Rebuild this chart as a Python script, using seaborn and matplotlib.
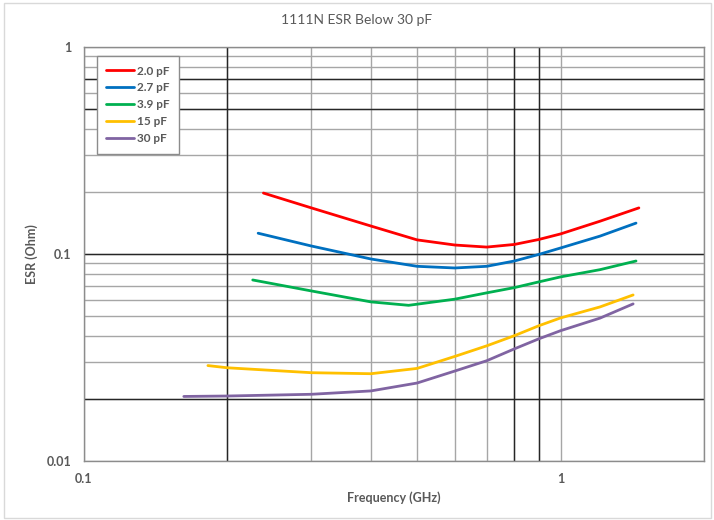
import numpy as np
import pandas as pd
import seaborn as sns
import matplotlib.pyplot as plt
from matplotlib.patches import Rectangle
from matplotlib.ticker import FixedLocator, NullFormatter

# values (GHz, Ohm)
cap_labels = ["2.0 pF", "2.7 pF", "3.9 pF", "15 pF", "30 pF"]

freq_20 = [0.238, 0.30, 0.40, 0.50, 0.60, 0.70, 0.80, 0.90, 1.00, 1.21, 1.46]
esr_20 = [0.197, 0.167, 0.1365, 0.117, 0.1105, 0.108, 0.1112, 0.1175, 0.125, 0.144, 0.167]

freq_27 = [0.232, 0.30, 0.40, 0.50, 0.60, 0.70, 0.80, 0.90, 1.00, 1.21, 1.44]
esr_27 = [0.126, 0.1093, 0.0946, 0.0872, 0.0856, 0.0872, 0.0925, 0.0995, 0.1069, 0.122, 0.141]

freq_39 = [0.226, 0.30, 0.40, 0.48, 0.60, 0.70, 0.80, 0.90, 1.00, 1.21, 1.44]
esr_39 = [0.0749, 0.0663, 0.0587, 0.0565, 0.0605, 0.0649, 0.0688, 0.0733, 0.0775, 0.0840, 0.0925]

freq_15 = [0.182, 0.20, 0.30, 0.40, 0.50, 0.60, 0.70, 0.80, 0.90, 1.00, 1.21, 1.42]
esr_15 = [0.0289, 0.0282, 0.0267, 0.0264, 0.0280, 0.0320, 0.036, 0.0403, 0.045, 0.0491, 0.0555, 0.0634]

freq_30 = [0.162, 0.20, 0.30, 0.40, 0.50, 0.60, 0.70, 0.80, 0.90, 1.00, 1.21, 1.42]
esr_30 = [0.0205, 0.0206, 0.0210, 0.0218, 0.0238, 0.0272, 0.0305, 0.0348, 0.0389, 0.0426, 0.0490, 0.0574]

x_ticks = [0.1, 1]
y_ticks = [0.01, 0.1, 1]

colors = ["#FF0000", "#0070C0", "#00B050", "#FFC000", "#8064A2"]

# gridlines that render darker in the original
dark_x = [0.2, 0.8, 0.9]
dark_y = [0.02, 0.1, 0.5, 0.7]

frames = []
for lab, f, e in zip(cap_labels,
                     [freq_20, freq_27, freq_39, freq_15, freq_30],
                     [esr_20, esr_27, esr_39, esr_15, esr_30]):
    frames.append(pd.DataFrame({"freq": f, "esr": e, "cap": lab}))
df = pd.concat(frames, ignore_index=True)

sns.set_style("white")
plt.rcParams["font.family"] = ["Lato", "DejaVu Sans"]

fig = plt.figure(figsize=(7.14, 5.2), dpi=100)
ax = fig.add_axes([0.1176, 0.1135, 0.8684, 0.7961])

ax.set_xscale("log")
ax.set_yscale("log")
ax.set_xlim(0.1, 2.0)
ax.set_ylim(0.01, 1)

ax.xaxis.set_major_locator(FixedLocator(x_ticks))
ax.yaxis.set_major_locator(FixedLocator(y_ticks))
ax.xaxis.set_minor_locator(FixedLocator([v * d for d in [0.1, 1] for v in range(2, 10)]))
ax.yaxis.set_minor_locator(FixedLocator([v * d for d in [0.01, 0.1] for v in range(2, 10)]))
ax.xaxis.set_minor_formatter(NullFormatter())
ax.yaxis.set_minor_formatter(NullFormatter())
ax.set_xticklabels(["0.1", "1"])
ax.set_yticklabels(["0.01", "0.1", "1"])

ax.grid(True, which="both", color="#a6a6a6", linewidth=1.0)
for v in dark_x:
    ax.axvline(v, color="#262626", linewidth=1.0, zorder=1)
for v in dark_y:
    ax.axhline(v, color="#262626", linewidth=1.0, zorder=1)
ax.set_axisbelow(True)

sns.lineplot(data=df, x="freq", y="esr", hue="cap", palette=colors,
             estimator=None, sort=False, linewidth=2.0, ax=ax, zorder=3)

ax.tick_params(axis="both", which="both", length=0, pad=9,
               labelsize=9, labelcolor="#595959")
for lbl in ax.get_xticklabels() + ax.get_yticklabels():
    lbl.set_fontweight("bold")

for s in ax.spines.values():
    s.set_color("#8c8c8c")
    s.set_linewidth(1.0)

ax.set_xlabel("Frequency (GHz)", fontsize=9, color="#595959",
              fontweight="bold", labelpad=4)
ax.set_ylabel("ESR (Ohm)", fontsize=9, color="#595959",
              fontweight="bold", labelpad=6)
fig.text(0.5, 0.962, "1111N ESR Below 30 pF", ha="center", va="center",
         fontsize=10, color="#595959")

leg = ax.legend(loc="upper left", bbox_to_anchor=(0.021, 0.978),
                borderaxespad=0, fontsize=8.5, frameon=True, fancybox=False,
                framealpha=1.0, handlelength=2.3, labelspacing=0.5,
                handletextpad=0.3, borderpad=0.8)
leg.set_zorder(10)
leg.get_frame().set_edgecolor("#8c8c8c")
leg.get_frame().set_facecolor("white")
leg.get_frame().set_linewidth(1.0)
for t in leg.get_texts():
    t.set_color("#595959")
    t.set_fontweight("bold")

fig.patches.append(Rectangle((0.006, 0.004), 0.99, 0.99, transform=fig.transFigure,
                             fill=False, edgecolor="#d9d9d9", linewidth=1.0))

fig.savefig("out.png", dpi=100)
